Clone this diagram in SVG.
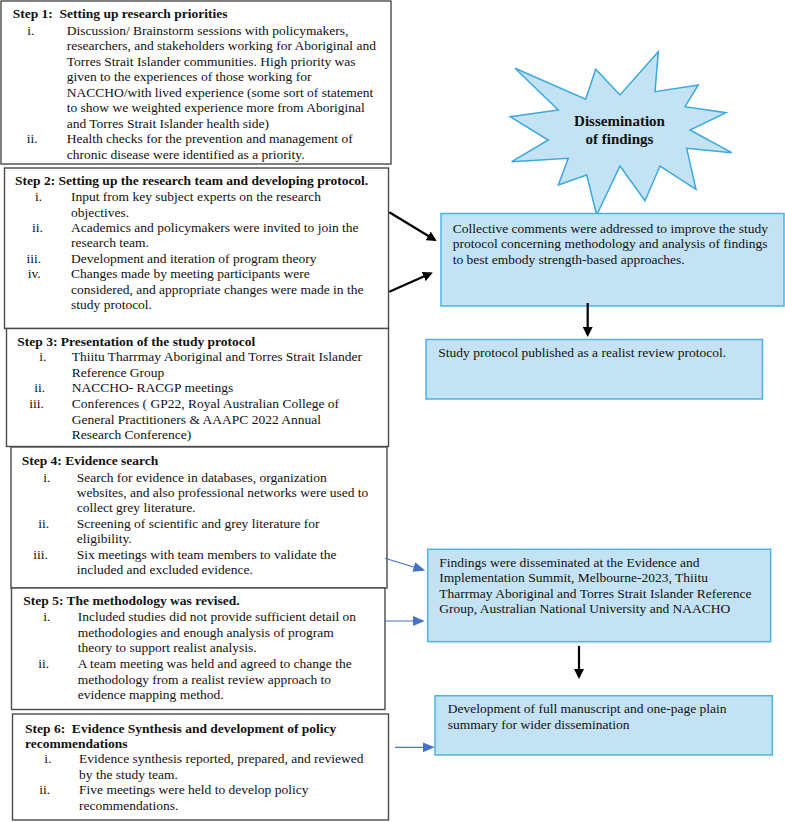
<svg xmlns="http://www.w3.org/2000/svg" width="785" height="822" viewBox="0 0 785 822">
<defs>
<style>
.step{fill:#ffffff;stroke:#4a4a4a;stroke-width:1.4}
.blue{fill:#c3e3f4;stroke:#4db3e6;stroke-width:1.5}
text{font-family:"Liberation Serif","Times New Roman",serif;font-size:13.5px;fill:#111}
.b{font-weight:bold}
.star{font-weight:bold;font-size:15px;text-anchor:middle}
.blk{stroke:#000;stroke-width:2.2;fill:none}
.bl{stroke:#4472c4;stroke-width:1.2;fill:none}
</style>
<marker id="ah" markerWidth="10" markerHeight="10" refX="8" refY="5" orient="auto" markerUnits="userSpaceOnUse" viewBox="0 0 10 10"><path d="M0,0 L10,5 L0,10 z" fill="#000"/></marker>
<marker id="ahb" markerWidth="12" markerHeight="10" refX="10" refY="5" orient="auto" markerUnits="userSpaceOnUse" viewBox="0 0 12 10"><path d="M0,0 L12,5 L0,10 z" fill="#4472c4"/></marker>
</defs>

<g id="step1">
<rect class="step" x="1" y="1" width="390" height="163"/>
<text class="b" x="12.7" y="18">Step 1:&#160; Setting up research priorities</text>
<text x="27.3" y="34.5">i.</text>
<text x="66.7" y="34.5">Discussion/ Brainstorm sessions with policymakers,</text>
<text x="66.7" y="50">researchers, and stakeholders working for Aboriginal and</text>
<text x="66.7" y="65.7">Torres Strait Islander communities. High priority was</text>
<text x="66.7" y="81">given to the experiences of those working for</text>
<text x="66.7" y="96.7">NACCHO/with lived experience (some sort of statement</text>
<text x="66.7" y="112.3">to show we weighted experience more from Aboriginal</text>
<text x="66.7" y="127.7">and Torres Strait Islander health side)</text>
<text x="26.7" y="143.3">ii.</text>
<text x="66.7" y="143.3">Health checks for the prevention and management of</text>
<text x="66.7" y="159">chronic disease were identified as a priority.</text>
</g>

<g id="step2">
<rect class="step" x="4.5" y="168" width="384" height="160.5"/>
<text class="b" x="15" y="185">Step 2: Setting up the research team and developing protocol.</text>
<text x="35" y="201">i.</text>
<text x="71" y="201">Input from key subject experts on the research</text>
<text x="71" y="216.7">objectives.</text>
<text x="32" y="231.7">ii.</text>
<text x="71" y="231.7">Academics and policymakers were invited to join the</text>
<text x="71" y="247.3">research team.</text>
<text x="26.5" y="262.7">iii.</text>
<text x="71" y="262.7">Development and iteration of program theory</text>
<text x="27.7" y="278.3">iv.</text>
<text x="71" y="278.3">Changes made by meeting participants were</text>
<text x="71" y="294">considered, and appropriate changes were made in the</text>
<text x="71" y="309.3">study protocol.</text>
</g>

<g id="step3">
<rect class="step" x="6.5" y="328.5" width="382" height="118"/>
<text class="b" x="17.3" y="345.7">Step 3: Presentation of the study protocol</text>
<text x="39.3" y="361">i.</text>
<text x="71.7" y="361">Thiitu Tharrmay Aboriginal and Torres Strait Islander</text>
<text x="71.7" y="376.7">Reference Group</text>
<text x="34.3" y="391.7">ii.</text>
<text x="71.7" y="391.7">NACCHO- RACGP meetings</text>
<text x="29.3" y="408.3">iii.</text>
<text x="71.7" y="408.3">Conferences ( GP22, Royal Australian College of</text>
<text x="71.7" y="424">General Practitioners &amp; AAAPC 2022 Annual</text>
<text x="71.7" y="439.3">Research Conference)</text>
</g>

<g id="step4">
<rect class="step" x="11" y="447" width="376" height="141"/>
<text class="b" x="21.7" y="465">Step 4: Evidence search</text>
<text x="43.3" y="481.7">i.</text>
<text x="76.7" y="481.7">Search for evidence in databases, organization</text>
<text x="76.7" y="496.7">websites, and also professional networks were used to</text>
<text x="76.7" y="512.3">collect grey literature.</text>
<text x="38.3" y="527.7">ii.</text>
<text x="76.7" y="527.7">Screening of scientific and grey literature for</text>
<text x="76.7" y="543.3">eligibility.</text>
<text x="33.3" y="559">iii.</text>
<text x="76.7" y="559">Six meetings with team members to validate the</text>
<text x="76.7" y="574.3">included and excluded evidence.</text>
</g>

<g id="step5">
<rect class="step" x="11.5" y="588" width="373.5" height="121.5"/>
<text class="b" x="23.3" y="605">Step 5: The methodology was revised.</text>
<text x="43.3" y="621">i.</text>
<text x="77.7" y="621">Included studies did not provide sufficient detail on</text>
<text x="77.7" y="636.7">methodologies and enough analysis of program</text>
<text x="77.7" y="652.3">theory to support realist analysis.</text>
<text x="38.3" y="668">ii.</text>
<text x="77.7" y="668">A team meeting was held and agreed to change the</text>
<text x="77.7" y="684">methodology from a realist review approach to</text>
<text x="77.7" y="699.3">evidence mapping method.</text>
</g>

<g id="step6">
<rect class="step" x="12.5" y="714" width="376" height="106"/>
<text class="b" x="25" y="732.7">Step 6:&#160; Evidence Synthesis and development of policy</text>
<text class="b" x="25" y="747.7">recommendations</text>
<text x="44.3" y="763.3">i.</text>
<text x="79" y="763.3">Evidence synthesis reported, prepared, and reviewed</text>
<text x="79" y="779">by the study team.</text>
<text x="39.3" y="794.3">ii.</text>
<text x="79" y="794.3">Five meetings were held to develop policy</text>
<text x="79" y="810">recommendations.</text>
</g>

<g id="dissemination">
<polygon class="blue" points="515,68.3 585.7,99.3 595.7,69.3 620,95 658.3,51.7 655,91.7 698.3,85 685,106.7 726,112.7 690,130 731.7,152.7 686.7,148.3 696,189.3 660,166 645,200.7 620,166 596.7,215 586.7,175 558.3,185 568.3,158.3 511.7,161.7 548.3,140 510,116.7 558.3,110" style="stroke:#3aa9e0"/>
<text class="star" x="619.5" y="126">Dissemination</text>
<text class="star" x="619.5" y="144">of findings</text>
</g>

<g id="comments">
<rect class="blue" x="441" y="213.5" width="343" height="92.5"/>
<text x="452.7" y="232.7">Collective comments were addressed to improve the study</text>
<text x="452.7" y="248.3">protocol concerning methodology and analysis of findings</text>
<text x="452.7" y="264">to best embody strength-based approaches.</text>
</g>

<g id="published">
<rect class="blue" x="426" y="339.5" width="336.5" height="59.5"/>
<text x="438.3" y="356.7">Study protocol published as a realist review protocol.</text>
</g>

<g id="findings">
<rect class="blue" x="427.7" y="549.3" width="343" height="92.4"/>
<text x="439.3" y="566.7">Findings were disseminated at the Evidence and</text>
<text x="439.3" y="582.3">Implementation Summit, Melbourne-2023, Thiitu</text>
<text x="439.3" y="598.3">Tharrmay Aboriginal and Torres Strait Islander Reference</text>
<text x="439.3" y="613.3">Group, Australian National University and NAACHO</text>
</g>

<g id="manuscript">
<rect class="blue" x="435" y="695.7" width="337.3" height="59.3"/>
<text x="447.7" y="713.3">Development of full manuscript and one-page plain</text>
<text x="447.7" y="729">summary for wider dissemination</text>
</g>

<g id="connectors">
<line class="blk" x1="389.3" y1="212.3" x2="435" y2="240" marker-end="url(#ah)"/>
<line class="blk" x1="389.3" y1="291.7" x2="431" y2="273.3" marker-end="url(#ah)"/>
<line class="blk" x1="587.7" y1="303" x2="587.7" y2="335" marker-end="url(#ah)"/>
<line class="blk" x1="579" y1="646" x2="579" y2="677" marker-end="url(#ah)"/>
<line class="bl" x1="385" y1="558.3" x2="423.3" y2="570" marker-end="url(#ahb)"/>
<line class="bl" x1="384" y1="621" x2="422.7" y2="621" marker-end="url(#ahb)"/>
<line class="bl" x1="395" y1="747.3" x2="432.7" y2="747.3" marker-end="url(#ahb)"/>
</g>
</svg>
